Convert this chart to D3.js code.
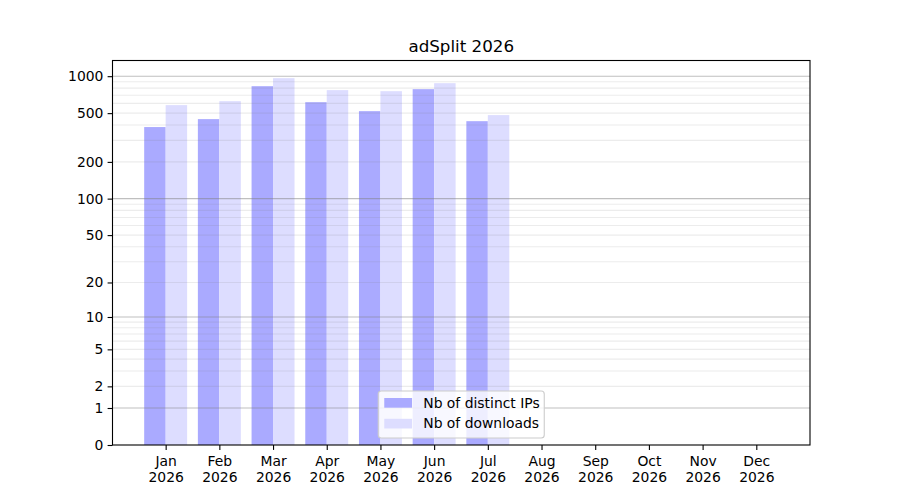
<!DOCTYPE html>
<html>
<head>
<meta charset="utf-8">
<script src="https://cdn.jsdelivr.net/npm/d3@7"></script>
<style>
  body { margin: 0; background: #fff; }
  svg { font-family: "DejaVu Sans", sans-serif; }
</style>
</head>
<body>
<svg id="chart" width="900" height="500"></svg>
<script>
// Data
const months = ["Jan", "Feb", "Mar", "Apr", "May", "Jun", "Jul", "Aug", "Sep", "Oct", "Nov", "Dec"];
const year = "2026";
const distinctIPs = [385, 447, 829, 614, 519, 784, 430];
const downloads = [581, 626, 963, 770, 755, 877, 482];
const yTicks = [0, 1, 2, 5, 10, 20, 50, 100, 200, 500, 1000];
const majorGrid = [1, 10, 100, 1000];
const minorGrid = [2, 3, 4, 5, 6, 7, 8, 9, 20, 30, 40, 50, 60, 70, 80, 90, 200, 300, 400, 500, 600, 700, 800, 900];
const seriesNames = ["Nb of distinct IPs", "Nb of downloads"];
const seriesColors = ["#aaaaff", "#ddddff"];

// Plot area
const margin = {top: 60.5, bottom: 55, left: 112.5, right: 90};
const W = 900, H = 500;
const width = W - margin.left - margin.right;
const height = H - margin.top - margin.bottom;

const svg = d3.select("#chart");
const g = svg.append("g")
  .attr("transform", `translate(${margin.left}, ${margin.top})`);

const xscale = d3.scaleLinear()
  .domain([-0.99, 12])
  .range([0, width]);

const yscale = d3.scaleSymlog()
  .constant(1)
  .domain([0, 1342])
  .range([height, 0]);

const unit = xscale(1) - xscale(0);
const barW = 0.4 * unit;

// Bars
const series = [distinctIPs, downloads];
series.forEach(function(vals, s) {
  g.append("g").selectAll("rect")
    .data(vals)
    .join("rect")
    .attr("x", (d, i) => xscale(i) + (s === 0 ? -barW : 0))
    .attr("width", barW)
    .attr("y", d => yscale(d))
    .attr("height", d => yscale(0) - yscale(d))
    .attr("fill", seriesColors[s]);
});

// Grid lines drawn on top of the bars
g.append("g").selectAll("line")
  .data(minorGrid)
  .join("line")
  .attr("x1", 0).attr("x2", width)
  .attr("y1", d => yscale(d)).attr("y2", d => yscale(d))
  .attr("stroke", "#808080")
  .attr("stroke-opacity", 0.15)
  .attr("stroke-width", 1.1);

g.append("g").selectAll("line")
  .data(majorGrid)
  .join("line")
  .attr("x1", 0).attr("x2", width)
  .attr("y1", d => yscale(d)).attr("y2", d => yscale(d))
  .attr("stroke", "#808080")
  .attr("stroke-opacity", 0.5)
  .attr("stroke-width", 1.1);

// Axes
const yaxis = d3.axisLeft(yscale)
  .tickValues(yTicks)
  .tickFormat(d3.format("d"))
  .tickSize(4.9)
  .tickPadding(4.2);

const xaxis = d3.axisBottom(xscale)
  .tickValues(d3.range(months.length))
  .tickFormat("")
  .tickSize(4.9)
  .tickPadding(4.9);

const gy = g.append("g").call(yaxis);
const gx = g.append("g").attr("transform", `translate(0,${height})`).call(xaxis);

[gx, gy].forEach(function(a) {
  a.select(".domain").remove();
  a.selectAll(".tick line").attr("stroke", "#000").attr("stroke-width", 1.1);
  a.selectAll("text").attr("font-size", "13.9px").attr("font-family", "DejaVu Sans").attr("fill", "#000");
});

gx.selectAll(".tick").each(function(d) {
  const t = d3.select(this).select("text").attr("dy", null).attr("y", 0);
  t.append("tspan").attr("x", 0).attr("y", 21).text(months[d]);
  t.append("tspan").attr("x", 0).attr("y", 37).text(year);
});

// Frame
g.append("rect")
  .attr("x", 0).attr("y", 0)
  .attr("width", width).attr("height", height)
  .attr("fill", "none")
  .attr("stroke", "#000")
  .attr("stroke-width", 1.1);

// Title
g.append("text")
  .attr("x", width / 2)
  .attr("y", -8.8)
  .attr("text-anchor", "middle")
  .attr("font-size", "16.7px")
  .text("adSplit " + year);

// Legend
const legW = 166, legH = 47;
const leg = g.append("g")
  .attr("transform", `translate(${width / 2 - legW / 2}, ${height - 7 - legH})`);

leg.append("rect")
  .attr("width", legW).attr("height", legH)
  .attr("rx", 3)
  .attr("fill", "#fff")
  .attr("fill-opacity", 0.8)
  .attr("stroke", "#cccccc")
  .attr("stroke-width", 1.1);

seriesNames.forEach(function(name, i) {
  leg.append("rect")
    .attr("x", 6).attr("y", 7 + i * 20.8)
    .attr("width", 27.8).attr("height", 9.7)
    .attr("fill", seriesColors[i]);
  leg.append("text")
    .attr("x", 45)
    .attr("y", 16.5 + i * 20.8)
    .attr("font-size", "13.9px")
    .text(name);
});
</script>
</body>
</html>
